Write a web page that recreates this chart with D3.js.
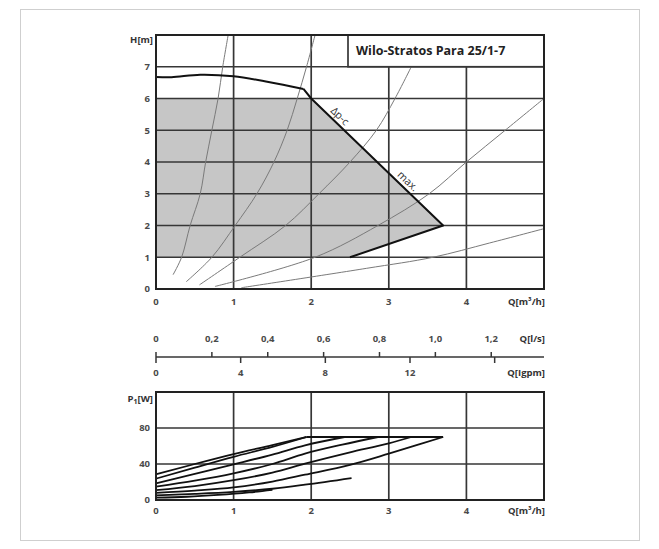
<!DOCTYPE html>
<html>
<head>
<meta charset="utf-8">
<script src="https://cdn.jsdelivr.net/npm/d3@7"></script>
<style>
  body { margin: 0; background: #fff; }
  text { font-family: "Open Sans", "Noto Sans", sans-serif; }
</style>
</head>
<body>
<svg id="chart" width="659" height="549"></svg>
<script>
// --- data ---
const qTicks = [0, 1, 2, 3, 4];
const hTicks = [0, 1, 2, 3, 4, 5, 6, 7];
const lsTicks = [0, 0.2, 0.4, 0.6, 0.8, 1.0, 1.2];
const igpmTicks = [0, 4, 8, 12, 16];
const igpmLabels = [0, 4, 8, 12];
const pTicks = [0, 40, 80];

// max curve + dp-c line + min line (Q m3/h, H m)
const headMax = [[0, 6.68], [0.2, 6.67], [0.57, 6.75], [1.0, 6.7], [1.45, 6.52], [1.9, 6.3]];
const headEnvelope = [[1.9, 6.3], [2.0, 6.0], [3.7, 2.0], [2.5, 1.0]];
const grayArea = [[0, 6], [2.0, 6], [3.7, 2], [2.5, 1], [0, 1]];

// system curves (thin grey)
const sysCurves = [
  [[0.22, 0.45], [0.33, 1], [0.44, 2], [0.57, 3], [0.64, 4], [0.72, 5], [0.8, 6], [0.86, 7], [0.93, 8]],
  [[0.39, 0.23], [0.72, 1], [1.02, 2], [1.3, 3], [1.52, 4], [1.69, 5], [1.82, 6], [1.94, 7], [2.05, 8]],
  [[0.56, 0.13], [1.08, 1], [1.67, 2], [2.1, 3], [2.5, 4], [2.84, 5], [3.08, 6], [3.29, 7]],
  [[0.76, 0.08], [2.05, 1], [2.86, 2], [3.52, 3], [4.0, 4], [4.5, 5], [5.0, 6]],
  [[1.1, 0.04], [2.71, 0.65], [3.57, 1], [4.3, 1.45], [5.0, 1.9]]
];

// power input curves (Q m3/h, P1 W)
const powerCurves = [
  [[0, 28.5], [0.5, 40], [1, 51], [1.5, 61], [1.94, 70]],
  [[0, 23.7], [0.5, 36], [1, 48], [1.5, 59], [1.94, 70]],
  [[0, 18.5], [0.5, 29], [1, 39.6], [1.5, 50.5], [1.92, 60.7], [2.43, 70]],
  [[0, 14.8], [0.5, 21.5], [1, 29.6], [1.5, 40], [1.92, 51.5], [2.4, 61.5], [2.86, 70]],
  [[0, 11], [0.5, 15.5], [1, 22], [1.5, 30.5], [1.92, 40.4], [2.5, 53], [3.0, 63], [3.29, 70]],
  [[0, 8], [0.5, 10.5], [1, 14], [1.5, 20.5], [1.92, 28.1], [2.5, 39], [3.0, 51.5], [3.4, 62], [3.7, 70]],
  [[0, 5.2], [0.5, 6.8], [1, 9], [1.5, 12.5], [1.92, 17], [2.52, 24.4]],
  [[0, 2.6], [0.4, 3.6], [0.8, 5.6], [1.2, 8.4], [1.5, 11.2]]
];
const pMaxLine = [[1.94, 70], [3.7, 70]];

const svg = d3.select("#chart");
const gridCol = "#363636";
const labelCol = "#4a4a4a";

// outer frame
svg.append("rect").attr("x", 20.5).attr("y", 9.5).attr("width", 619).attr("height", 531)
  .attr("fill", "none").attr("stroke", "#cfcfcf");

// --- scales ---
const x = d3.scaleLinear().domain([0, 5]).range([156, 544]);
const yH = d3.scaleLinear().domain([0, 8]).range([289, 35]);
const yP = d3.scaleLinear().domain([0, 120]).range([500, 392]);

const lineH = d3.line().x(d => x(d[0])).y(d => yH(d[1]));
const lineP = d3.line().x(d => x(d[0])).y(d => yP(d[1]));

// ================= head chart =================
const gHead = svg.append("g");
gHead.append("path").attr("d", lineH(grayArea) + "Z").attr("fill", "#c6c6c6");

// grid
hTicks.filter(v => v > 0).forEach(v => {
  gHead.append("line").attr("x1", x(0)).attr("x2", x(5)).attr("y1", yH(v)).attr("y2", yH(v))
    .attr("stroke", gridCol).attr("stroke-width", 1.7);
});
qTicks.filter(v => v > 0).forEach(v => {
  gHead.append("line").attr("x1", x(v)).attr("x2", x(v)).attr("y1", yH(0))
    .attr("y2", v < 2.47 ? yH(8) : yH(7))
    .attr("stroke", gridCol).attr("stroke-width", 1.7);
});

// system curves
sysCurves.forEach(c => {
  gHead.append("path").attr("d", lineH.curve(d3.curveCatmullRom)(c))
    .attr("fill", "none").attr("stroke", "#7a7a7a").attr("stroke-width", 1);
});
lineH.curve(d3.curveLinear);

// max / dp-c
gHead.append("path").attr("d", lineH.curve(d3.curveCatmullRom)(headMax))
  .attr("fill", "none").attr("stroke", "#111").attr("stroke-width", 2);
lineH.curve(d3.curveLinear);
gHead.append("path").attr("d", lineH(headEnvelope))
  .attr("fill", "none").attr("stroke", "#111").attr("stroke-width", 2).attr("stroke-linejoin", "round");

// title box
gHead.append("rect").attr("x", 348).attr("y", yH(8)).attr("width", x(5) - 348).attr("height", yH(7) - yH(8))
  .attr("fill", "#fff").attr("stroke", gridCol).attr("stroke-width", 1.7);
gHead.append("text").attr("x", 356).attr("y", 55).attr("font-size", 12.5).attr("font-weight", 700)
  .attr("fill", "#222").text("Wilo-Stratos Para 25/1-7");

// frame
gHead.append("rect").attr("x", x(0)).attr("y", yH(8)).attr("width", x(5) - x(0)).attr("height", yH(0) - yH(8))
  .attr("fill", "none").attr("stroke", "#222").attr("stroke-width", 2);

// curve labels
const ang = Math.atan2(yH(2) - yH(6), x(3.7) - x(2)) * 180 / Math.PI;
gHead.append("text").attr("transform", `translate(340,116) rotate(${ang})`).attr("text-anchor", "middle")
  .attr("dy", "0.35em").attr("font-size", 10.5).attr("fill", "#333").text("Δp-c");
gHead.append("text").attr("transform", `translate(408,181) rotate(${ang})`).attr("text-anchor", "middle")
  .attr("dy", "0.35em").attr("font-size", 10.5).attr("fill", "#333").text("max.");

// tick labels
hTicks.forEach(v => {
  gHead.append("text").attr("x", 150).attr("y", yH(v)).attr("dy", "0.35em").attr("text-anchor", "end")
    .attr("font-size", 9.5).attr("font-weight", 700).attr("fill", labelCol).text(v);
});
qTicks.forEach(v => {
  gHead.append("text").attr("x", x(v)).attr("y", 302).attr("dy", "0.35em").attr("text-anchor", "middle")
    .attr("font-size", 9.5).attr("font-weight", 700).attr("fill", labelCol).text(v);
});
gHead.append("text").attr("x", 153).attr("y", 40).attr("dy", "0.35em").attr("text-anchor", "end")
  .attr("font-size", 9.5).attr("font-weight", 700).attr("fill", "#333").text("H[m]");
gHead.append("text").attr("x", 545).attr("y", 302).attr("dy", "0.35em").attr("text-anchor", "end")
  .attr("font-size", 9.5).attr("font-weight", 700).attr("fill", "#333").text("Q[m³/h]");

// ================= flow conversion axis =================
const xLs = d3.scaleLinear().domain([0, 5 / 3.6]).range([156, 544]);
const xIg = d3.scaleLinear().domain([0, 5 / 0.272765]).range([156, 544]);
const axY = 357;
const gMid = svg.append("g");
gMid.append("line").attr("x1", 156).attr("x2", 544).attr("y1", axY).attr("y2", axY)
  .attr("stroke", gridCol).attr("stroke-width", 1.5);
lsTicks.forEach(v => {
  gMid.append("line").attr("x1", xLs(v)).attr("x2", xLs(v)).attr("y1", axY - 5).attr("y2", axY)
    .attr("stroke", gridCol).attr("stroke-width", 1.5);
  gMid.append("text").attr("x", xLs(v)).attr("y", 339).attr("dy", "0.35em").attr("text-anchor", "middle")
    .attr("font-size", 9.5).attr("font-weight", 700).attr("fill", labelCol)
    .text(v === 0 ? "0" : d3.format(".1f")(v).replace(".", ","));
});
igpmTicks.forEach(v => {
  gMid.append("line").attr("x1", xIg(v)).attr("x2", xIg(v)).attr("y1", axY).attr("y2", axY + 6)
    .attr("stroke", gridCol).attr("stroke-width", 1.5);
});
igpmLabels.forEach(v => {
  gMid.append("text").attr("x", xIg(v)).attr("y", 373).attr("dy", "0.35em").attr("text-anchor", "middle")
    .attr("font-size", 9.5).attr("font-weight", 700).attr("fill", labelCol).text(v);
});
gMid.append("text").attr("x", 545).attr("y", 339).attr("dy", "0.35em").attr("text-anchor", "end")
  .attr("font-size", 9.5).attr("font-weight", 700).attr("fill", "#333").text("Q[l/s]");
gMid.append("text").attr("x", 545).attr("y", 373).attr("dy", "0.35em").attr("text-anchor", "end")
  .attr("font-size", 9.5).attr("font-weight", 700).attr("fill", "#333").text("Q[Igpm]");

// ================= power chart =================
const gPow = svg.append("g");
pTicks.filter(v => v > 0).forEach(v => {
  gPow.append("line").attr("x1", x(0)).attr("x2", x(5)).attr("y1", yP(v)).attr("y2", yP(v))
    .attr("stroke", gridCol).attr("stroke-width", 1.7);
});
qTicks.filter(v => v > 0).forEach(v => {
  gPow.append("line").attr("x1", x(v)).attr("x2", x(v)).attr("y1", yP(0)).attr("y2", yP(120))
    .attr("stroke", gridCol).attr("stroke-width", 1.7);
});
powerCurves.forEach(c => {
  gPow.append("path").attr("d", lineP.curve(d3.curveMonotoneX)(c))
    .attr("fill", "none").attr("stroke", "#111").attr("stroke-width", 1.8);
});
lineP.curve(d3.curveLinear);
gPow.append("path").attr("d", lineP(pMaxLine)).attr("fill", "none").attr("stroke", "#111").attr("stroke-width", 1.8);
gPow.append("rect").attr("x", x(0)).attr("y", yP(120)).attr("width", x(5) - x(0)).attr("height", yP(0) - yP(120))
  .attr("fill", "none").attr("stroke", "#222").attr("stroke-width", 2);

pTicks.forEach(v => {
  gPow.append("text").attr("x", 150).attr("y", yP(v)).attr("dy", "0.35em").attr("text-anchor", "end")
    .attr("font-size", 9.5).attr("font-weight", 700).attr("fill", labelCol).text(v);
});
qTicks.forEach(v => {
  gPow.append("text").attr("x", x(v)).attr("y", 511).attr("dy", "0.35em").attr("text-anchor", "middle")
    .attr("font-size", 9.5).attr("font-weight", 700).attr("fill", labelCol).text(v);
});
const pLab = gPow.append("text").attr("x", 153).attr("y", 399).attr("dy", "0.35em").attr("text-anchor", "end")
  .attr("font-size", 9.5).attr("font-weight", 700).attr("fill", "#333");
pLab.append("tspan").text("P");
pLab.append("tspan").attr("font-size", 7).attr("dy", 2).text("1");
pLab.append("tspan").attr("dy", -2).text("[W]");
gPow.append("text").attr("x", 545).attr("y", 511).attr("dy", "0.35em").attr("text-anchor", "end")
  .attr("font-size", 9.5).attr("font-weight", 700).attr("fill", "#333").text("Q[m³/h]");
</script>
</body>
</html>
